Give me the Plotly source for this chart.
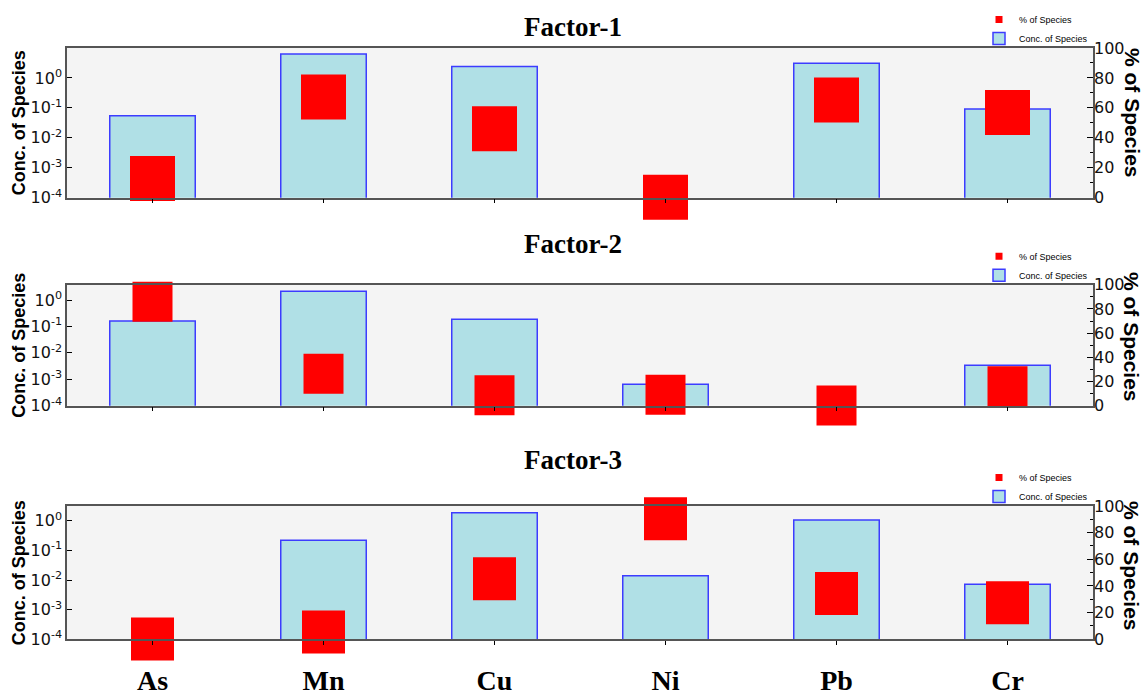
import plotly.graph_objects as go

# ---------------- data ----------------
elements = ["As", "Mn", "Cu", "Ni", "Pb", "Cr"]
factor_names = ["Factor-1", "Factor-2", "Factor-3"]

# concentration of species (left, log axis)
conc_f1 = [0.055, 6.3, 2.4, None, 3.1, 0.091]
conc_f2 = [0.16, 2.15, 0.186, 0.00065, None, 0.0034]
conc_f3 = [None, 0.22, 1.86, 0.014, 1.07, 0.0072]

# % of species (right axis)
pct_f1 = [12.8, 67.3, 46.0, 0.3, 65.3, 56.9]
pct_f2 = [86.0, 26.4, 8.6, 9.0, 0.2, 16.0]
pct_f3 = [0.2, 5.5, 45.4, 90.4, 34.4, 27.4]

conc_tickvals = [1e-4, 1e-3, 1e-2, 1e-1, 1]
conc_ticktext = ["10<sup>-4</sup>", "10<sup>-3</sup>", "10<sup>-2</sup>",
                 "10<sup>-1</sup>", "10<sup>0</sup>"]
pct_tickvals = [0, 20, 40, 60, 80, 100]

# ---------------- layout / style constants ----------------
W, H = 1145, 697
ML, MR = 67, 52
panel_px = [(48, 197.7), (284.7, 405.7), (506, 639.3)]   # top, bottom in px
log_ranges = [[-4, 1], [-4, 0.58], [-4, 0.5]]
title_px = [27, 244, 460]
right_title_px = [113, 337, 566]
marker_px = [45, 40, 43]


def py(px):
    return 1 - px / H


def pxx(px):
    return (px - ML) / (W - ML - MR)


concs = [conc_f1, conc_f2, conc_f3]
pcts = [pct_f1, pct_f2, pct_f3]

fig = go.Figure()
layout = dict(
    width=W, height=H,
    margin=dict(l=ML, r=MR, t=0, b=0),
    template="none",
    plot_bgcolor="#f4f4f4",
    paper_bgcolor="white",
    showlegend=True,
    annotations=[],
)

axis_line = "#555555"
tick_font = dict(family="DejaVu Sans", size=16, color="#111111")
RED = "#ff0000"

for i in range(3):
    n = i + 1
    xa = "x" if n == 1 else f"x{n}"
    yl = "y" if n == 1 else f"y{2 * n - 1}"
    yr = f"y{2 * n}"
    leg = "legend" if n == 1 else f"legend{n}"
    top, bot = panel_px[i]
    dom = [py(bot), py(top)]

    fig.add_trace(go.Bar(
        x=elements, y=concs[i], xaxis=xa, yaxis=yl, width=0.5,
        marker=dict(color="#b0e0e6", line=dict(color="#3c3cff", width=1.5)),
        name="Conc. of Species", legend=leg, legendrank=2,
    ))
    fig.add_trace(go.Scatter(
        x=elements, y=pcts[i], xaxis=xa, yaxis=yr, mode="markers",
        marker=dict(symbol="square", color=RED, size=marker_px[i],
                    line=dict(width=0)),
        cliponaxis=False, showlegend=False,
        name="% of Species",
    ))
    # legend entry for the red markers (small symbol as in the original key)
    fig.add_trace(go.Scatter(
        x=[None], y=[None], xaxis=xa, yaxis=yr, mode="markers",
        marker=dict(symbol="square", color=RED, size=7, line=dict(width=0)),
        name="% of Species", legend=leg, legendrank=1,
    ))

    xkey = "xaxis" if n == 1 else f"xaxis{n}"
    ylkey = "yaxis" if n == 1 else f"yaxis{2 * n - 1}"
    yrkey = f"yaxis{2 * n}"

    layout[xkey] = dict(
        domain=[0, 1], anchor=yl, type="category",
        categoryorder="array", categoryarray=elements,
        range=[-0.5, 5.5],
        showline=True, mirror=True, linecolor=axis_line, linewidth=1.5,
        ticks="outside", ticklen=4, tickcolor="black", tickwidth=1,
        showgrid=False, zeroline=False,
        showticklabels=(n == 3),
        tickfont=dict(family="Liberation Serif", size=28, color="black",
                      weight="bold"),
        ticklabelstandoff=11,
        automargin=False,
    )
    layout[ylkey] = dict(
        domain=dom, anchor=xa, type="log", range=log_ranges[i],
        tickvals=conc_tickvals, ticktext=conc_ticktext,
        ticks="inside", ticklen=5, tickcolor="black",
        showline=True, mirror=True, linecolor=axis_line, linewidth=1.5,
        showgrid=False, zeroline=False,
        tickfont=tick_font,
        title=dict(text="Conc. of Species", standoff=0,
                   font=dict(family="Liberation Sans", size=18, color="black",
                             weight="bold")),
        automargin=False,
    )
    layout[yrkey] = dict(
        overlaying=yl, side="right", anchor=xa, range=[0, 100],
        tickvals=pct_tickvals,
        ticks="inside", ticklen=6, tickcolor="black",
        minor=dict(dtick=10, ticks="inside", ticklen=3, tickcolor="black"),
        showline=False, showgrid=False, zeroline=False,
        tickfont=tick_font,
        automargin=False,
    )
    layout[leg] = dict(
        x=1.0, xanchor="right", y=py(top + 5), yanchor="bottom",
        font=dict(family="Liberation Sans", size=9, color="black"),
        bgcolor="rgba(0,0,0,0)", borderwidth=0,
        itemwidth=30, tracegroupgap=0,
    )
    layout["annotations"].append(dict(
        text=factor_names[i], xref="paper", yref="paper",
        x=pxx(W / 2), y=py(title_px[i]), xanchor="center", yanchor="middle",
        showarrow=False,
        font=dict(family="Liberation Serif", size=27, color="black",
                  weight="bold"),
    ))
    layout["annotations"].append(dict(
        text="% of Species", xref="paper", yref="paper",
        x=pxx(1132), y=py(right_title_px[i]), xanchor="center",
        yanchor="middle", textangle=90, showarrow=False,
        font=dict(family="Liberation Sans", size=21, color="black",
                  weight="bold"),
    ))

fig.update_layout(**layout)
fig.write_html("out.html",
               config={"displayModeBar": False},
               post_script="document.body.style.margin='0px';")
